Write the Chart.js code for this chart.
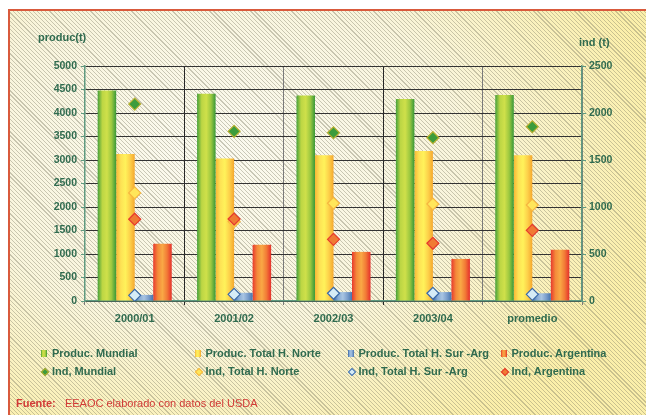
<!DOCTYPE html>
<html>
<head>
<meta charset="utf-8">
<script src="https://cdn.jsdelivr.net/npm/chart.js@4"></script>
<style>
  html, body { margin: 0; padding: 0; background: #fff; overflow: hidden; }
  #wrap { position: relative; width: 646px; height: 415px; overflow: hidden; font-family: "Liberation Sans", Arial, sans-serif; }
  #frame {
    position: absolute; left: 10px; top: 11px; width: 636px; height: 404px;
    background-image:
      repeating-linear-gradient(45deg, rgba(120,118,95,0.38) 0px, rgba(120,118,95,0.38) 0.8px, transparent 0.8px, transparent 2.9px),
      radial-gradient(ellipse 70% 80% at 32% 35%, #fbfaf0 0%, #f9f5dc 55%, #fbefaa 100%);
    background-repeat: no-repeat;
  }
  .edge { position: absolute; background: #d95a3c; }
  canvas { position: absolute; left: 0; top: 0; }
  .txt { position: absolute; color: #2f6b4f; font-weight: bold; font-size: 11px; line-height: 13px; white-space: nowrap; }
  .leg { position: absolute; height: 13px; line-height: 13px; font-size: 11px; font-weight: bold; color: #2f6b4f; white-space: nowrap; }
  .leg i { position: absolute; display: block; }
  .leg span { position: absolute; left: 11px; top: 0; }
  .foot { position: absolute; left: 16px; top: 397px; font-size: 11px; color: #d23a36; white-space: nowrap; }
</style>
</head>
<body>
<div id="wrap">
  <div id="frame"></div>
  <div class="edge" style="left:8px; top:9px; width:638px; height:2px;"></div>
  <div class="edge" style="left:8px; top:9px; width:2px; height:406px;"></div>
  <canvas id="chart" width="646" height="415"></canvas>
  <div class="txt" style="left:38px; top:31px;">produc(t)</div>
  <div class="txt" style="left:579px; top:36px;">ind (t)</div>
  <div id="legend"></div>
  <div class="foot"><b>Fuente:</b>&nbsp;&nbsp; EEAOC elaborado con datos del USDA</div>
</div>
<script>
// Datos
const categorias = ['2000/01', '2001/02', '2002/03', '2003/04', 'promedio'];
const producMundial = [4480, 4410, 4370, 4300, 4385];
const producNorte = [3130, 3030, 3100, 3190, 3100];
const producSur = [130, 175, 190, 190, 165];
const producArg = [1220, 1195, 1045, 895, 1090];
const indMundial = [2095, 1805, 1790, 1737, 1854];
const indNorte = [1150, 845, 1040, 1032, 1021];
const indSur = [60, 71, 82, 82, 71];
const indArg = [870, 872, 656, 614, 752];

const verde = '#2f6b4f';
const ejeColor = '#5f9a80';

// gradientes horizontales de las barras
const gradStops = {
    mundial: ['#45a03b', '#bcd644', '#cfe04a', '#9cc840', '#389838'],
    norte: ['#f8b636', '#fde255', '#fff25a', '#fdd04a', '#f5a82e'],
    sur: ['#3a66a4', '#86aad4', '#a8c4e2', '#7c9fcc', '#4674ae'],
    arg: ['#e8392e', '#f48a3a', '#f9a845', '#f27a36', '#e5302c']
};

function stopsCss(stops) {
    return 'linear-gradient(to right,' + stops.map((c, i) => c + ' ' + (i * 25) + '%').join(',') + ')';
}

const barDataset = (label, data, key) => ({
    type: 'bar',
    label: label,
    data: data,
    gradKey: key,
    backgroundColor: gradStops[key][2],
    borderWidth: 0,
    yAxisID: 'y',
    order: 10,
    categoryPercentage: 0.745,
    barPercentage: 1.0
});

const pointDataset = (label, data, fill, border, order) => ({
    type: 'line',
    label: label,
    data: data,
    showLine: false,
    pointStyle: 'rectRot',
    pointRadius: 6,
    pointBorderWidth: 1.2,
    pointBackgroundColor: fill,
    pointBorderColor: border,
    yAxisID: 'y1',
    order: order
});

// Plugin: degradado por barra
const barGradients = {
    id: 'barGradients',
    beforeDatasetDraw(chart, args) {
        const ds = chart.data.datasets[args.index];
        if (!ds.gradKey) return;
        const ctx = chart.ctx;
        const stops = gradStops[ds.gradKey];
        args.meta.data.forEach(bar => {
            const x0 = bar.x - bar.width / 2;
            const g = ctx.createLinearGradient(x0, 0, x0 + bar.width, 0);
            stops.forEach((c, i) => g.addColorStop(i / (stops.length - 1), c));
            bar.options = Object.assign({}, bar.options, { backgroundColor: g });
        });
    }
};

const tickFont = { family: 'Liberation Sans, Arial, sans-serif', size: 10.5, weight: 'bold' };
const plainNum = v => String(v);

new Chart(document.getElementById('chart').getContext('2d'), {
    data: {
        labels: categorias,
        datasets: [
            barDataset('Produc. Mundial', producMundial, 'mundial'),
            barDataset('Produc. Total H. Norte', producNorte, 'norte'),
            barDataset('Produc. Total H. Sur -Arg', producSur, 'sur'),
            barDataset('Produc. Argentina', producArg, 'arg'),
            pointDataset('Ind, Mundial', indMundial, '#3c9c3c', '#b8b030', 3),
            pointDataset('Ind, Total H. Norte', indNorte, '#ffe65a', '#f6b640', 2),
            pointDataset('Ind, Total H. Sur -Arg', indSur, '#d6ecf6', '#3a6aa8', 1),
            pointDataset('Ind, Argentina', indArg, '#f07a34', '#e63a2e', 0)
        ]
    },
    options: {
        responsive: false,
        animation: false,
        layout: { padding: { top: 66, left: 0, right: 0, bottom: 0 } },
        plugins: { legend: { display: false }, tooltip: { enabled: false } },
        scales: {
            x: {
                offset: true,
                grid: {
                    offset: true,
                    color: c => (c.index % 2 === 1 ? '#262626' : '#7a7a7a'),
                    tickColor: c => (c.index % 2 === 1 ? '#262626' : '#7a7a7a'),
                    tickLength: 4,
                    lineWidth: 1
                },
                border: { color: ejeColor, width: 1.5 },
                ticks: { color: verde, font: { family: 'Liberation Sans, Arial, sans-serif', size: 11, weight: 'bold' }, padding: 7 },
                afterFit: s => { s.height = 114; }
            },
            y: {
                position: 'left',
                min: 0,
                max: 5000,
                ticks: { stepSize: 500, color: verde, font: tickFont, padding: 4, callback: plainNum },
                grid: { color: '#333333', lineWidth: 1, tickColor: ejeColor, tickLength: 4 },
                border: { color: ejeColor, width: 1.5 },
                afterFit: s => { s.width = 85; }
            },
            y1: {
                position: 'right',
                min: 0,
                max: 2500,
                ticks: { stepSize: 500, color: verde, font: tickFont, padding: 3, callback: plainNum },
                grid: { drawOnChartArea: false, tickColor: ejeColor, tickLength: 4 },
                border: { color: ejeColor, width: 1.5 },
                afterFit: s => { s.width = 64; }
            }
        }
    },
    plugins: [barGradients]
});

// Leyenda en HTML (4 columnas, 2 filas)
const legendCols = [41, 194.5, 347.5, 500.5];
const legendRows = [347, 365];
const legend = document.getElementById('legend');
const barItems = [
    ['Produc. Mundial', 'mundial'],
    ['Produc. Total H. Norte', 'norte'],
    ['Produc. Total H. Sur -Arg', 'sur'],
    ['Produc. Argentina', 'arg']
];
const pointItems = [
    ['Ind, Mundial', '#3c9c3c', '#b8b030'],
    ['Ind, Total H. Norte', '#ffe65a', '#f6b640'],
    ['Ind, Total H. Sur -Arg', '#d6ecf6', '#3a6aa8'],
    ['Ind, Argentina', '#f07a34', '#e63a2e']
];
barItems.forEach((it, i) => {
    const d = document.createElement('div');
    d.className = 'leg';
    d.style.left = legendCols[i] + 'px';
    d.style.top = legendRows[0] + 'px';
    d.innerHTML = '<i style="left:0;top:3px;width:6px;height:7px;background:' + stopsCss(gradStops[it[1]]) + '"></i><span>' + it[0] + '</span>';
    legend.appendChild(d);
});
pointItems.forEach((it, i) => {
    const d = document.createElement('div');
    d.className = 'leg';
    d.style.left = legendCols[i] + 'px';
    d.style.top = legendRows[1] + 'px';
    d.innerHTML = '<i style="left:1px;top:4px;width:4px;height:4px;transform:rotate(45deg);background:' + it[1] + ';border:1px solid ' + it[2] + '"></i><span>' + it[0] + '</span>';
    legend.appendChild(d);
});
</script>
</body>
</html>
